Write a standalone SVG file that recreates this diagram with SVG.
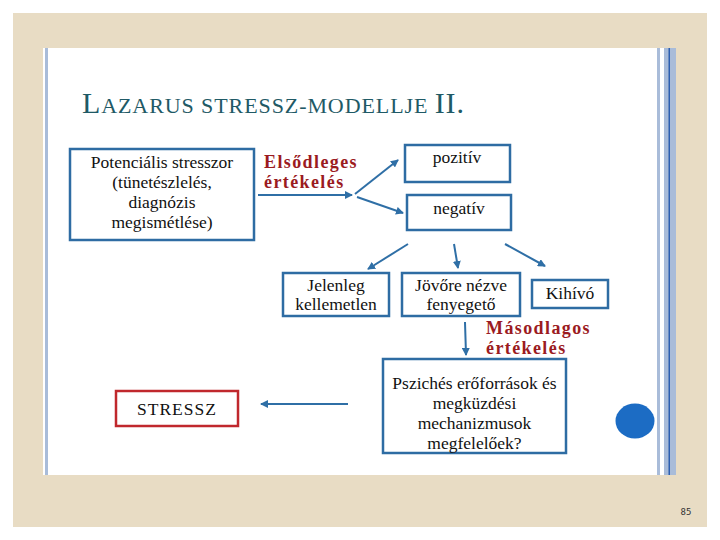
<svg xmlns="http://www.w3.org/2000/svg" width="720" height="540" viewBox="0 0 720 540">
<defs>
<style>
.box{fill:#ffffff;stroke:#2e6ca3;stroke-width:2.5}
.red{fill:#ffffff;stroke:#c0282d;stroke-width:2.5}
.t{font-family:"Times New Roman","Liberation Serif","DejaVu Serif","Noto Serif",serif;font-size:17.5px;fill:#111;text-anchor:middle}
.b{font-family:"Times New Roman","Liberation Serif","DejaVu Serif","Noto Serif",serif;font-size:18px;font-weight:bold;fill:#9b1b1f;letter-spacing:1.4px}
.ti{font-family:"Times New Roman","Liberation Serif","DejaVu Serif","Noto Serif",serif;fill:#1f5a66;font-size:30px;letter-spacing:1px}
.c{stroke:#2f6fa6;stroke-width:2;fill:none;marker-end:url(#ah)}
</style>
<marker id="ah" markerWidth="8" markerHeight="8" refX="7" refY="4" orient="auto" markerUnits="userSpaceOnUse">
<path d="M0,0 L8,4 L0,8 Z" fill="#2f6fa6"/>
</marker>
</defs>
<rect x="0" y="0" width="720" height="540" fill="#ffffff"/>
<rect x="13" y="13" width="694" height="514" fill="#e8dcc4"/>
<rect x="43" y="48" width="614" height="427" fill="#ffffff"/>
<rect x="45" y="48" width="3" height="427" fill="#a9bcd9"/>
<rect x="657" y="48" width="3" height="427" fill="#a9bcd9"/>
<rect x="660" y="48" width="4" height="427" fill="#ffffff"/>
<rect x="664" y="48" width="12" height="427" fill="#a9bcd9"/>
<rect x="668.5" y="48" width="1.5" height="427" fill="#2d5fb0"/>
<text class="ti" x="82" y="113" textLength="383" lengthAdjust="spacing"><tspan>L</tspan><tspan font-size="22">AZARUS STRESSZ-MODELLJE </tspan><tspan>II.</tspan></text>
<text x="686" y="515" font-family="DejaVu Sans Mono,monospace" font-size="9" fill="#333" text-anchor="middle">85</text>
<g id="connectors">
<line class="c" x1="258" y1="195" x2="352" y2="195"/>
<line class="c" x1="355" y1="194" x2="398" y2="160"/>
<line class="c" x1="357" y1="197" x2="403" y2="213"/>
<line class="c" x1="408" y1="244" x2="368" y2="269"/>
<line class="c" x1="454" y1="244" x2="458" y2="268"/>
<line class="c" x1="505" y1="244" x2="545" y2="266"/>
<line class="c" x1="465" y1="322" x2="466" y2="355"/>
<line class="c" x1="348" y1="404" x2="261" y2="404"/>
</g>
<g id="potencialis">
<rect class="box" x="70" y="149" width="184" height="91"/>
<text class="t" x="162" y="168">Potenciális stresszor</text>
<text class="t" x="162" y="188">(tünetészlelés,</text>
<text class="t" x="162" y="208">diagnózis</text>
<text class="t" x="162" y="228">megismétlése)</text>
</g>
<g id="elsodleges">
<text class="b" x="264" y="168">Elsődleges</text>
<text class="b" x="264" y="188">értékelés</text>
</g>
<g id="pozitiv">
<rect class="box" x="405" y="145" width="105" height="37"/>
<text class="t" x="457" y="163">pozitív</text>
</g>
<g id="negativ">
<rect class="box" x="407" y="195" width="104" height="35"/>
<text class="t" x="459" y="214">negatív</text>
</g>
<g id="jelenleg">
<rect class="box" x="283" y="273" width="106" height="43"/>
<text class="t" x="336" y="291">Jelenleg</text>
<text class="t" x="336" y="310">kellemetlen</text>
</g>
<g id="jovore">
<rect class="box" x="402" y="273" width="118" height="43"/>
<text class="t" x="461" y="291">Jövőre nézve</text>
<text class="t" x="461" y="310">fenyegető</text>
</g>
<g id="kihivo">
<rect class="box" x="532" y="280" width="76" height="28"/>
<text class="t" x="570" y="299">Kihívó</text>
</g>
<g id="masodlagos">
<text class="b" x="486" y="334">Másodlagos</text>
<text class="b" x="486" y="354">értékelés</text>
</g>
<g id="pszitches">
<rect class="box" x="383" y="359" width="183" height="94"/>
<text class="t" x="474.5" y="389">Pszichés erőforrások és</text>
<text class="t" x="474.5" y="409">megküzdési</text>
<text class="t" x="474.5" y="429">mechanizmusok</text>
<text class="t" x="474.5" y="449">megfelelőek?</text>
</g>
<g id="stressz">
<rect class="red" x="116" y="391" width="122" height="35"/>
<text class="t" x="177" y="415" font-size="22" letter-spacing="1">STRESSZ</text>
</g>
<ellipse cx="635" cy="421" rx="19.5" ry="17.5" fill="#1c6cc4"/>
</svg>
